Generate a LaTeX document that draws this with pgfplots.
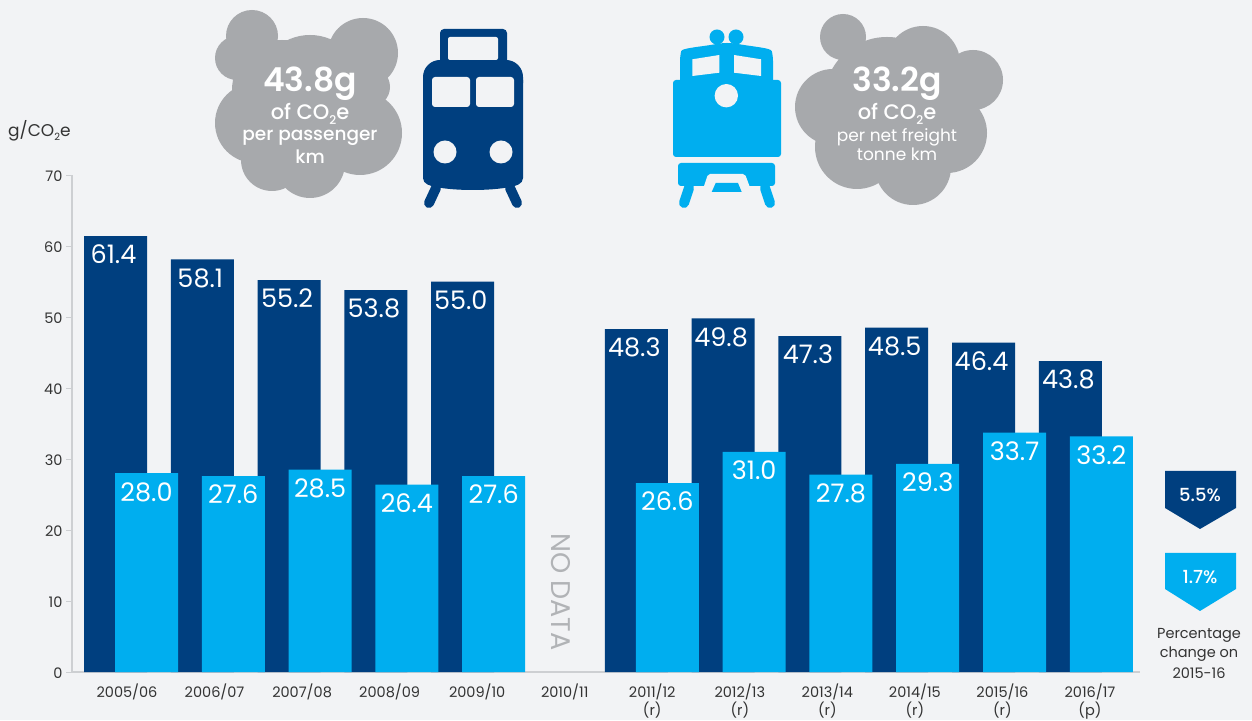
\documentclass[border=0pt]{standalone}
\usepackage{fontspec}
\setmainfont{Poppins}
\newfontfamily\pmed{Poppins Medium}
\newfontfamily\psemi{Poppins SemiBold}
\usepackage{pgfplots}
\pgfplotsset{compat=1.18}
\definecolor{bgc}{HTML}{F2F3F5}
\definecolor{darkb}{HTML}{003F7F}
\definecolor{lightb}{HTML}{00AEEF}
\definecolor{cloudc}{HTML}{A7A9AC}
\definecolor{axc}{HTML}{CDCFD2}
\definecolor{txt}{HTML}{333333}
\definecolor{nod}{HTML}{B1B3B6}
\newcommand{\fs}[1]{\fontsize{#1}{#1}\selectfont}
\begin{document}
\begin{tikzpicture}[x=1pt,y=1pt]
\path[use as bounding box,fill=bgc] (0,0) rectangle (1252,720);
\begin{axis}[
  at={(72pt,48pt)},anchor=south west,
  scale only axis,width=1068pt,height=497pt,
  xmin=-0.6797,xmax=11.624,ymin=0,ymax=70,
  axis y line*=left,axis x line*=bottom,
  axis line style={draw=axc,line width=1.2pt,-},
  tick align=outside,
  major tick length=6pt,
  ytick={0,10,20,30,40,50,60,70},
  ytick style={draw=axc,line width=1pt},
  xtick={-0.046,0.9625,1.971,2.9795,3.988,4.9965,6.005,7.0135,8.022,9.0305,10.039,11.0475},
  xtick style={draw=none},
  xticklabels={2005/06,2006/07,2007/08,2008/09,2009/10,2010/11,2011/12\\(r),2012/13\\(r),2013/14\\(r),2014/15\\(r),2015/16\\(r),2016/17\\(p)},
  xticklabel style={align=center,font=\fontsize{14.5}{18}\selectfont\color{txt},anchor=north,yshift=-2pt},
  yticklabel style={font=\fs{14.5}\color{txt},yshift=-1.5pt},
  /pgf/number format/assume math mode=true,
  clip=false,
  nodes near coords,
  nodes near coords style={/pgf/number format/fixed,/pgf/number format/fixed zerofill,/pgf/number format/precision=1,/pgf/number format/assume math mode=true,anchor=north,text=white,font=\fs{25.5},yshift=-5.5pt},
]
\addplot[ybar,bar width=63pt,bar shift=-15.5pt,fill=darkb,draw=none,nodes near coords style={xshift=-17.5pt}] coordinates {
(0,61.4)(1,58.1)(2,55.2)(3,53.8)(4,55.0)(6,48.3)(7,49.8)(8,47.3)(9,48.5)(10,46.4)(11,43.8)};
\addplot[ybar,bar width=63pt,bar shift=15.5pt,fill=lightb,draw=none,nodes near coords style={xshift=15.5pt}] coordinates {
(0,28.0)(1,27.6)(2,28.5)(3,26.4)(4,27.6)(6,26.6)(7,31.0)(8,27.8)(9,29.3)(10,33.7)(11,33.2)};
\end{axis}
\begin{scope}[shift={(0,720)},x=1pt,y=-1pt]
% y axis unit
\node[anchor=west,font=\fs{17},text=txt,inner sep=0pt] at (8,131) {g/CO\raisebox{-4pt}{\fs{10}2}e};
% NO DATA
\node[rotate=-90,font=\fs{27},text=nod,inner sep=0pt] at (561,592) {NO DATA};
% cloud 1
\fill[cloudc] (252,36) circle (26) (237,58) circle (22) (363,53) circle (35)
 (310,87) circle (52) (255,123) circle (40) (360,133) circle (42)
 (272,160) circle (31) (310,163) circle (35) (370,87) circle (20) (282,90) circle (50) (340,95) circle (40);
\node[font=\psemi\fs{33},text=white,inner sep=0pt] at (310,84) {43.8g};
\node[font=\pmed\fs{21},text=white,inner sep=0pt] at (310,114) {of CO\raisebox{-5pt}{\fs{12}2}e};
\node[font=\pmed\fs{18.5},text=white,inner sep=0pt] at (310,138) {per passenger};
\node[font=\pmed\fs{18.5},text=white,inner sep=0pt] at (310,157) {km};
% cloud 2
\fill[cloudc] (843,37) circle (23) (923,63) circle (37) (973,80) circle (30)
 (887,100) circle (63) (833,107) circle (38) (947,133) circle (40)
 (857,147) circle (42) (913,167) circle (38) (900,130) circle (50);
\node[font=\psemi\fs{33},text=white,inner sep=0pt] at (897,84) {33.2g};
\node[font=\pmed\fs{21},text=white,inner sep=0pt] at (897,114) {of CO\raisebox{-5pt}{\fs{12}2}e};
\node[font=\fs{17},text=white,inner sep=0pt] at (897,137) {per net freight};
\node[font=\fs{17},text=white,inner sep=0pt] at (897,154) {tonne km};
% passenger train
\fill[darkb,rounded corners=4pt] (440,29) rectangle (507,70);
\fill[darkb,rounded corners=17pt] (423,100) -- (423,60) -- (523,60) -- (523,100) -- cycle;
\fill[darkb] (423,80) -- (523,80) -- (523,178) .. controls (523,184) and (516,186) .. (510,187) .. controls (490,191) and (455,191) .. (436,187) .. controls (430,186) and (423,184) .. (423,178) -- cycle;
\fill[bgc,rounded corners=2pt] (448,37) rectangle (498,60);
\fill[bgc,rounded corners=3pt] (432,77) rectangle (470,107);
\fill[bgc,rounded corners=3pt] (476,77) rectangle (514,107);
\fill[bgc] (445,152) circle (11.5) (501,152) circle (11.5);
\draw[darkb,line width=10pt,line cap=round] (436,188) -- (429,203);
\draw[darkb,line width=10pt,line cap=round] (510,188) -- (517,203);
% freight train
\fill[lightb] (717,37) circle (7.5) (736,37) circle (7.5);
\fill[lightb,rounded corners=5pt] (680,85) -- (680,56) .. controls (682,48) and (700,47) .. (722,43) -- (732,43) .. controls (755,47) and (771,48) .. (773,56) -- (773,85) -- cycle;
\fill[lightb,rounded corners=3pt] (673,80) rectangle (781,157);
\fill[bgc] (692.3,59.3) -- (719.3,55) -- (719.3,72.7) -- (692.3,76) -- cycle;
\fill[bgc] (734,55) -- (761,59.3) -- (761,76) -- (734,72.7) -- cycle;
\fill[bgc] (726.3,95.7) circle (11.7);
\fill[lightb,rounded corners=3pt] (678,163) rectangle (775,186);
\fill[bgc,rounded corners=2pt] (701.7,193) -- (708,174) -- (745,174) -- (752,193) -- cycle;
\fill[lightb] (711.7,192) -- (715.7,183) -- (738,183) -- (741.7,192) -- cycle;
\draw[lightb,line width=10pt,line cap=round] (689,188) -- (684,203);
\draw[lightb,line width=10pt,line cap=round] (765,188) -- (770,203);
% badges
\fill[darkb] (1165,471) -- (1236,471) -- (1236,508) -- (1200,529) -- (1165,508) -- cycle;
\fill[lightb] (1165,553) -- (1236,553) -- (1236,589) -- (1200,611) -- (1165,589) -- cycle;
\node[font=\pmed\fs{18},text=white,inner sep=0pt] at (1200,495) {5.5\%};
\node[font=\pmed\fs{18},text=white,inner sep=0pt] at (1200,577) {1.7\%};
\node[font=\fs{14.5},text=txt,inner sep=0pt] at (1199,635) {Percentage};
\node[font=\fs{14.5},text=txt,inner sep=0pt] at (1199,654) {change on};
\node[font=\fs{14.5},text=txt,inner sep=0pt] at (1199,673) {2015-16};
\end{scope}
\end{tikzpicture}
\end{document}
